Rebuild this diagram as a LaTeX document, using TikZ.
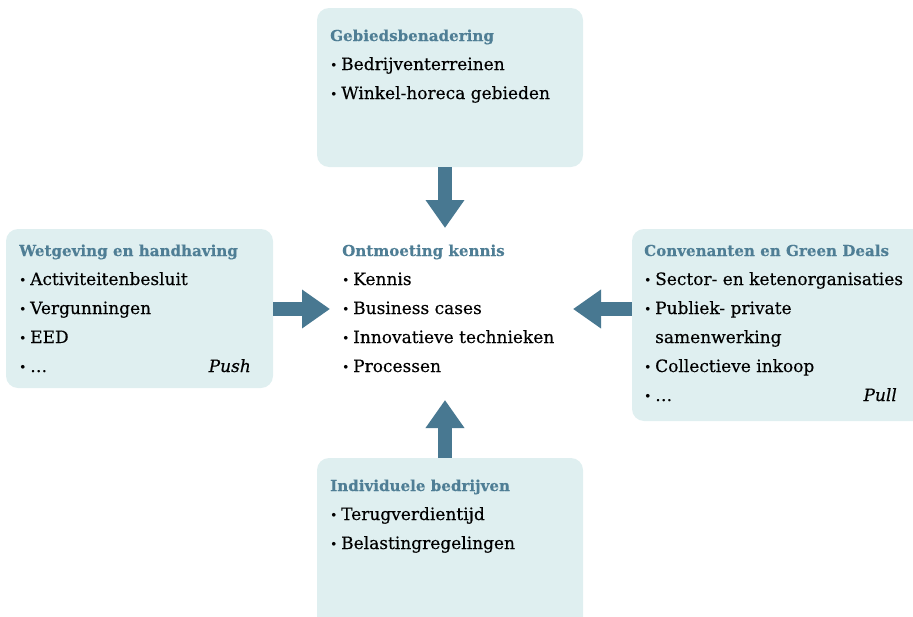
\documentclass[tikz,border=0pt]{standalone}
\usepackage{fontspec}
\setmainfont{DejaVu Serif}[UprightFeatures={FakeBold=0.35},ItalicFeatures={FakeBold=0.35},BoldFeatures={FakeBold=0.3}]
\usetikzlibrary{arrows.meta}
\definecolor{boxfill}{HTML}{DFEFF0}
\definecolor{arrowc}{HTML}{487891}
\definecolor{titlec}{HTML}{4F7E95}
\newcommand\bul{\makebox[11pt][l]{\raisebox{0.8pt}{\fontsize{12}{12}\selectfont •}}}
\begin{document}
\begin{tikzpicture}[x=1pt,y=-1pt,
 panel/.style={fill=boxfill, rounded corners=12pt, draw=none, inner sep=0pt},
 ttl/.style={anchor=base west, inner sep=0pt, text=titlec, font=\fontsize{15.1}{20}\selectfont\bfseries},
 itm/.style={anchor=base west, inner sep=0pt, font=\fontsize{17}{20}\selectfont},
 tag/.style={anchor=base east, inner sep=0pt, font=\fontsize{17}{20}\selectfont\itshape},
 blk/.style={draw=arrowc, line width=14pt, -{Triangle[width=37pt,length=28pt]}}]
\useasboundingbox (0,0) rectangle (913,616);
\clip (0,0) rectangle (913,616);
% panels
\node[panel, minimum width=266pt, minimum height=159pt] (top) at (450,87.5) {};
\node[panel, minimum width=267pt, minimum height=159pt] (left) at (139.5,308.5) {};
\node[panel, minimum width=308pt, minimum height=192pt] (right) at (786,325) {};
\node[panel, minimum width=266pt, minimum height=182pt] (bottom) at (450,549) {};
% arrows
\coordinate (tA) at (445,228);
\coordinate (lA) at (330,309);
\coordinate (rA) at (573,309);
\coordinate (bA) at (445,400);
\draw[blk] (top.south -| tA) -- (tA);
\draw[blk] (left.east |- lA) -- (lA);
\draw[blk] (right.west |- rA) -- (rA);
\draw[blk] (bottom.north -| bA) -- (bA);
% top text
\node[ttl] (t0) at (330,41) {Gebiedsbenadering};
\node[itm] (t1) at (330,70) {\bul Bedrijventerreinen};
\node[itm] (t2) at (330,99) {\bul Winkel-horeca gebieden};
% left text
\node[ttl] (l0) at (19,256) {Wetgeving en handhaving};
\node[itm] (l1) at (19,285) {\bul Activiteitenbesluit};
\node[itm] (l2) at (19,314) {\bul Vergunningen};
\node[itm] (l3) at (19,343) {\bul EED};
\node[itm] (l4) at (19,372) {\bul …};
\node[tag] (l5) at (251,372) {Push};
% center text
\node[ttl] (c0) at (342,256) {Ontmoeting kennis};
\node[itm] (c1) at (342,285) {\bul Kennis};
\node[itm] (c2) at (342,314) {\bul Business cases};
\node[itm] (c3) at (342,343) {\bul Innovatieve technieken};
\node[itm] (c4) at (342,372) {\bul Processen};
% right text
\node[ttl] (r0) at (644,256) {Convenanten en Green Deals};
\node[itm] (r1) at (644,285) {\bul Sector- en ketenorganisaties};
\node[itm] (r2) at (644,314) {\bul Publiek- private};
\node[itm] (r3) at (655,343) {samenwerking};
\node[itm] (r4) at (644,372) {\bul Collectieve inkoop};
\node[itm] (r5) at (644,401) {\bul …};
\node[tag] (r6) at (897,401) {Pull};
% bottom text
\node[ttl] (b0) at (330,491) {Individuele bedrijven};
\node[itm] (b1) at (330,520) {\bul Terugverdientijd};
\node[itm] (b2) at (330,549) {\bul Belastingregelingen};
\end{tikzpicture}
\end{document}
